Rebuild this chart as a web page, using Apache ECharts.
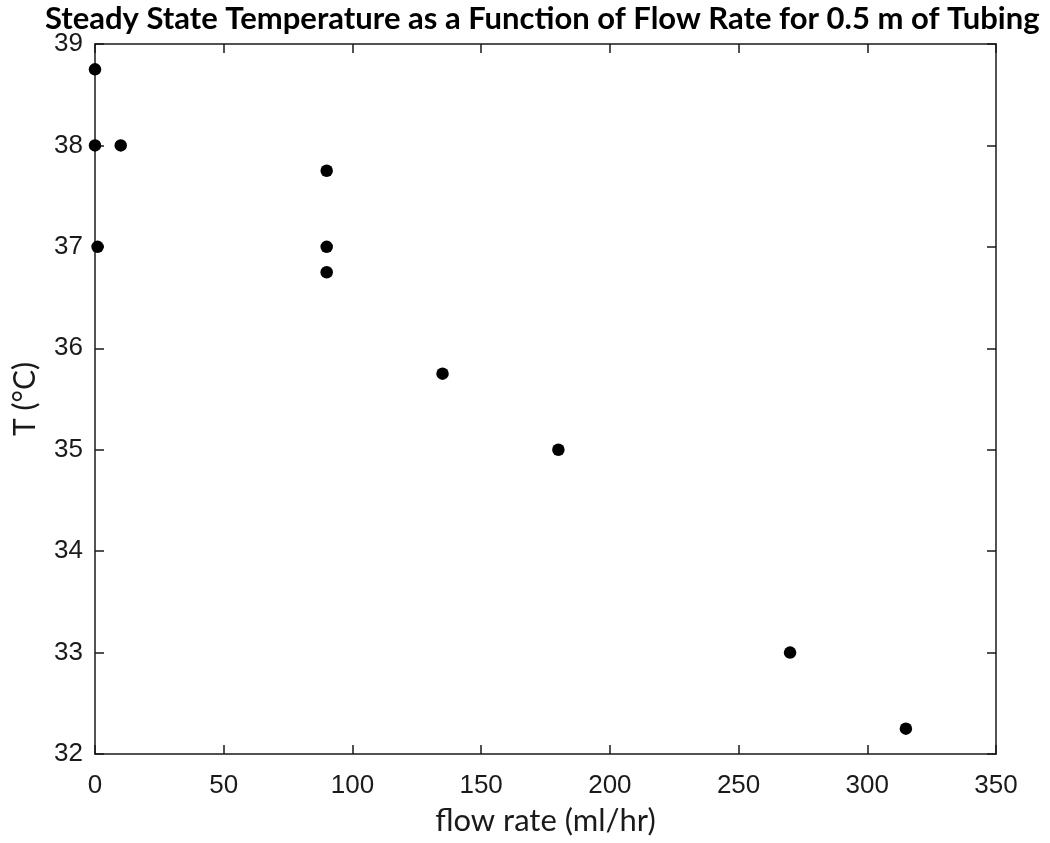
<!DOCTYPE html>
<html><head><meta charset="utf-8">
<script src="https://cdn.jsdelivr.net/npm/echarts@6/dist/echarts.min.js"></script>
<style>html,body{margin:0;padding:0;background:#fff}#c{width:1050px;height:843px}</style>
</head><body><div id="c"></div>
<script>
const flowRate = [0, 0, 10, 1, 90, 90, 90, 135, 180, 270, 315];
const temperature = [38.75, 38, 38, 37, 37.75, 37, 36.75, 35.75, 35, 33, 32.25];
const titleText = 'Steady State Temperature as a Function of Flow Rate for 0.5 m of Tubing';
const xName = 'flow rate (ml/hr)';
const yName = 'T (°C)';

const chart = echarts.init(document.getElementById('c'), null, {renderer: 'canvas'});
const lineStyle = {color: '#1a1a1a', width: 1.5};
const axisCommon = {
  axisLine: {show: true, onZero: false, lineStyle: lineStyle},
  axisTick: {show: true, inside: true, length: 9, lineStyle: lineStyle},
  splitLine: {show: false}
};
chart.setOption({
  backgroundColor: '#fff',
  animation: false,
  title: {
    text: titleText, left: 45, top: 1, padding: [2, 0, 0, 0],
    textStyle: {fontFamily: 'Lato', fontWeight: 'bold', fontSize: 31, color: '#000'}
  },
  grid: {left: 95, right: 54, top: 44, bottom: 89, containLabel: false},
  xAxis: [
    Object.assign({type: 'value', position: 'bottom', min: 0, max: 350, interval: 50,
      name: xName, nameLocation: 'middle', nameGap: 51,
      nameTextStyle: {fontFamily: 'Lato', fontSize: 31, color: '#1a1a1a'},
      axisLabel: {fontFamily: 'Liberation Sans', fontSize: 26, color: '#1a1a1a', margin: 19}}, axisCommon),
    Object.assign({type: 'value', position: 'top', min: 0, max: 350, interval: 50,
      axisLabel: {show: false}}, axisCommon)
  ],
  yAxis: [
    Object.assign({type: 'value', position: 'left', min: 32, max: 39, interval: 1,
      name: yName, nameLocation: 'middle', nameGap: 55, nameRotate: 90,
      nameTextStyle: {fontFamily: 'Lato', fontSize: 30, color: '#1a1a1a'},
      axisLabel: {fontFamily: 'Liberation Sans', fontSize: 26, color: '#1a1a1a', margin: 12}}, axisCommon),
    Object.assign({type: 'value', position: 'right', min: 32, max: 39, interval: 1,
      axisLabel: {show: false}}, axisCommon)
  ],
  series: [{
    type: 'scatter', xAxisIndex: 0, yAxisIndex: 0,
    symbol: 'circle', symbolSize: 12.5,
    itemStyle: {color: '#000', opacity: 1},
    data: flowRate.map((x, i) => [x, temperature[i]])
  }]
});
</script></body></html>
